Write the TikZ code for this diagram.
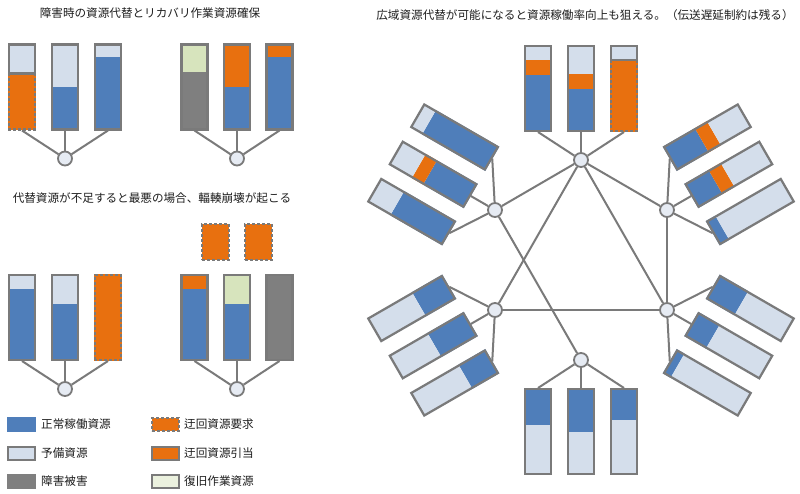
\documentclass[tikz,border=0pt]{standalone}
\usepackage{fontspec}
\newfontfamily\jp{Noto Sans CJK JP}
\definecolor{cblue}{HTML}{4F7EBA}
\definecolor{clight}{HTML}{D4DEEB}
\definecolor{corange}{HTML}{E8700F}
\definecolor{cgray}{HTML}{7F7F7F}
\definecolor{cgreen}{HTML}{D7E4BD}
\definecolor{cpale}{HTML}{EBF1DE}
\definecolor{cline}{HTML}{7A7A7A}
\definecolor{chub}{HTML}{E6EBF3}
\definecolor{ctext}{HTML}{1E1E1E}
\tikzset{
  bd/.style={draw=cline, line width=2.2pt},
  dsh/.style={dash pattern=on 3pt off 2pt},
  ln/.style={draw=cline, line width=2pt},
  hub/.style={circle, draw=cline, fill=chub, line width=1.8pt, minimum size=14pt, inner sep=0pt},
  ttl/.style={font=\jp\fontsize{11.6}{13}\selectfont, text=ctext, inner sep=0pt},
  lt/.style={font=\jp\fontsize{11.6}{13}\selectfont, text=ctext, inner sep=0pt, anchor=west},
  sw/.style={minimum width=27pt, minimum height=13pt, inner sep=0pt, line width=2pt}
}
\newcommand{\gbar}[4]{%
  \foreach \segc/\sega/\segb in {#3} {\fill[\segc] ({#2-14},{-28-\sega}) rectangle ({#2+14},{-28-\segb});}
  \ifnum#4=0
    \draw[bd] ({#2-13},-29) rectangle ({#2+13},-114);
  \else\ifnum#4=87
    \draw[bd,dsh] ({#2-13},-29) rectangle ({#2+13},-114);
  \else
    \draw[bd] ({#2-13},{-28-#4}) rectangle ({#2+13},-114);
    \draw[bd,dsh] ({#2-13},{-28-#4}) -- ({#2-13},-29) -- ({#2+13},-29) -- ({#2+13},{-28-#4});
  \fi\fi
  \coordinate (#1) at (#2,-28);
}
\begin{document}
\begin{tikzpicture}[x=1pt,y=-1pt]
\fill[white] (0,0) rectangle (800,494);
\useasboundingbox (0,0) rectangle (800,494);

% titles
\node[ttl] (t1) at (150,13) {障害時の資源代替とリカバリ作業資源確保};
\node[ttl] (t2) at (152,198) {代替資源が不足すると最悪の場合、輻輳崩壊が起こる};
\node[ttl] (t3) at (585,15) {広域資源代替が可能になると資源稼働率向上も狙える。（伝送遅延制約は残る）};

% hubs
\node[hub] (ha) at (65,158.5) {};
\node[hub] (hb) at (237,158.5) {};
\node[hub] (hc) at (65,389) {};
\node[hub] (hd) at (237,389) {};
\node[hub] (hT) at (581,160) {};
\node[hub] (hUL) at (495,210) {};
\node[hub] (hUR) at (667,210) {};
\node[hub] (hLL) at (495,310) {};
\node[hub] (hLR) at (667,310) {};
\node[hub] (hB) at (581,360) {};

% left groups
\begin{scope}[shift={(65,158.5)}]
\gbar{a1}{-43}{corange/0/57,clight/57/87}{57}
\gbar{a2}{0}{cblue/0/43,clight/43/87}{0}
\gbar{a3}{43}{cblue/0/73,clight/73/87}{0}
\end{scope}
\begin{scope}[shift={(237,158.5)}]
\gbar{b1}{-42.5}{cgray/0/58,cgreen/58/87}{0}
\gbar{b2}{0}{cblue/0/43,corange/43/87}{0}
\gbar{b3}{42.5}{cblue/0/73,corange/73/87}{0}
\end{scope}
\begin{scope}[shift={(65,389)}]
\gbar{c1}{-43}{cblue/0/72,clight/72/87}{0}
\gbar{c2}{0}{cblue/0/57,clight/57/87}{0}
\gbar{c3}{43}{corange/0/87}{87}
\end{scope}
\begin{scope}[shift={(237,389)}]
\gbar{d1}{-42.5}{cblue/0/72,corange/72/87}{0}
\gbar{d2}{0}{cblue/0/57,cgreen/57/87}{0}
\gbar{d3}{42.5}{cgray/0/87}{0}
\end{scope}
% floating requests
\node[fill=corange, draw=cline, line width=2pt, dsh, minimum width=27pt, minimum height=36pt, inner sep=0pt] (f1) at (215.5,242) {};
\node[fill=corange, draw=cline, line width=2pt, dsh, minimum width=27pt, minimum height=36pt, inner sep=0pt] (f2) at (258.5,242) {};

% network groups
\begin{scope}[shift={(581,160)}]
\gbar{T1}{-43}{cblue/0/57,corange/57/72,clight/72/87}{0}
\gbar{T2}{0}{cblue/0/43,corange/43/58,clight/58/87}{0}
\gbar{T3}{43}{corange/0/72,clight/72/87}{72}
\end{scope}
\begin{scope}[shift={(495,210)},rotate=60]
\gbar{UL1}{-43}{cblue/0/60,clight/60/87}{0}
\gbar{UL2}{0}{cblue/0/47,corange/47/60,clight/60/87}{0}
\gbar{UL3}{43}{cblue/0/73,clight/73/87}{0}
\end{scope}
\begin{scope}[shift={(667,210)},rotate=-60]
\gbar{UR1}{-43}{cblue/0/37,corange/37/51,clight/51/87}{0}
\gbar{UR2}{0}{cblue/0/28,corange/28/42,clight/42/87}{0}
\gbar{UR3}{43}{cblue/0/11,clight/11/87}{0}
\end{scope}
\begin{scope}[shift={(495,310)},rotate=120]
\gbar{LL1}{-43}{cblue/0/31,clight/31/87}{0}
\gbar{LL2}{0}{cblue/0/42,clight/42/87}{0}
\gbar{LL3}{43}{cblue/0/35,clight/35/87}{0}
\end{scope}
\begin{scope}[shift={(667,310)},rotate=-120]
\gbar{LR1}{-43}{cblue/0/33,clight/33/87}{0}
\gbar{LR2}{0}{cblue/0/25,clight/25/87}{0}
\gbar{LR3}{43}{cblue/0/9,clight/9/87}{0}
\end{scope}
\begin{scope}[shift={(581,360)},rotate=180]
\gbar{B1}{-43}{cblue/0/32,clight/32/87}{0}
\gbar{B2}{0}{cblue/0/44,clight/44/87}{0}
\gbar{B3}{43}{cblue/0/37,clight/37/87}{0}
\end{scope}

% connectors hub-bar
\foreach \h/\p in {ha/a,hb/b,hc/c,hd/d,hT/T,hUL/UL,hUR/UR,hLL/LL,hLR/LR,hB/B}
  \foreach \i in {1,2,3} \draw[ln] (\h) -- (\p\i);
% network
\draw[ln] (hT) -- (hUL);
\draw[ln] (hT) -- (hUR);
\draw[ln] (hT) -- (hLL);
\draw[ln] (hT) -- (hLR);
\draw[ln] (hUL) -- (hB);
\draw[ln] (hUR) -- (hLR);
\draw[ln] (hLL) -- (hLR);

% legend
\node[sw, fill=cblue, draw=cblue] (s1) at (21.5,424.5) {};
\node[sw, fill=clight, draw=cline] (s2) at (21.5,453.5) {};
\node[sw, fill=cgray, draw=cgray] (s3) at (21.5,481.5) {};
\node[sw, fill=corange, draw=cline, dsh] (s4) at (165,424.5) {};
\node[sw, fill=corange, draw=cline] (s5) at (165,453.5) {};
\node[sw, fill=cpale, draw=cline] (s6) at (165,481.5) {};
\node[lt] (l1) at (41,424.5) {正常稼働資源};
\node[lt] (l2) at (41,453.5) {予備資源};
\node[lt] (l3) at (41,481.5) {障害被害};
\node[lt] (l4) at (184,424.5) {迂回資源要求};
\node[lt] (l5) at (184,453.5) {迂回資源引当};
\node[lt] (l6) at (184,481.5) {復旧作業資源};
\end{tikzpicture}
\end{document}
